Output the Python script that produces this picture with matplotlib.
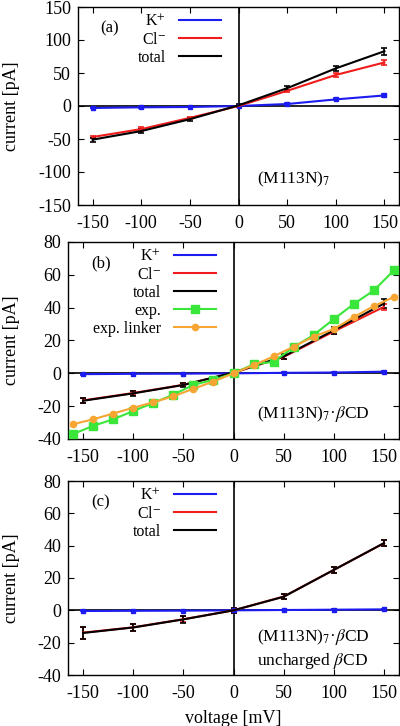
import matplotlib
matplotlib.use('Agg')
import matplotlib.pyplot as plt
from matplotlib.lines import Line2D

plt.rcParams['font.family'] = ['Liberation Serif', 'DejaVu Serif']
plt.rcParams['mathtext.fontset'] = 'stix'
plt.rcParams['axes.unicode_minus'] = False
plt.rcParams['font.size'] = 12

# simulation voltages
volt = [-150, -100, -50, 0, 50, 100, 150]
# experimental voltages
volt_exp = [-160, -140, -120, -100, -80, -60, -40, -20, 0, 20, 40, 60, 80, 100, 120, 140, 160]

# (a) (M113N)7
a_k = [-3, -2, -1.5, 0, 3, 10, 16]
a_k_err = [0.5, 0.5, 0.5, 0.5, 1, 1.5, 2]
a_cl = [-47, -35, -18, 0, 23, 47, 66]
a_cl_err = [2, 3, 2, 2, 2, 3, 4]
a_tot = [-51, -38, -20, 1, 27, 57, 83]
a_tot_err = [3, 3, 2, 2, 3, 4, 5]

# (b) (M113N)7·βCD
b_k = [-0.5, -0.3, -0.2, 0, 0.3, 0.5, 1]
b_k_err = [0.3, 0.3, 0.3, 0.3, 0.3, 0.3, 0.5]
b_cl = [-16.5, -12, -7, 0.3, 10, 25.5, 40.5]
b_cl_err = [1.5, 1.5, 1, 1, 1, 1.5, 2]
b_tot = [-16.7, -12.2, -7.1, 0.5, 10.3, 26.2, 42.5]
b_tot_err = [1.5, 1.5, 1, 1.5, 1.5, 2, 2.5]
b_exp = [-37, -32, -28, -23, -18, -13, -7, -4, 0, 5.5, 7, 16, 23.4, 33, 42.3, 50.5, 62.8]
b_linker = [-31, -28, -24.5, -21, -17.6, -14, -9.4, -5, 0, 5, 10.3, 16.3, 22.4, 27, 34.3, 41, 46.5]

# (c) uncharged βCD
c_k = [-0.4, -0.3, -0.2, 0, 0.2, 0.4, 0.6]
c_k_err = [0.3, 0.3, 0.3, 0.3, 0.3, 0.3, 0.3]
c_cl = [-13.8, -10.5, -5.5, 0, 8.5, 25, 41.5]
c_cl_err = [3.8, 2, 2, 1.5, 1.5, 2, 2]
c_tot = [-14, -10.6, -5.6, 0, 8.4, 25, 41.6]
c_tot_err = [3.8, 2, 2, 1.5, 1.5, 2, 2]

BLUE = '#1c1cf0'
RED = '#f01c1c'
GREEN = '#3ae63a'
ORANGE = '#f7a533'

fig = plt.figure(figsize=(4.0, 7.26), dpi=100)
W, H = 400.0, 726.0

def box(l, t, r, b):
    return [l / W, 1 - b / H, (r - l) / W, (b - t) / H]

ax_a = fig.add_axes(box(78, 7, 399, 205))
ax_b = fig.add_axes(box(68, 242, 399, 439))
ax_c = fig.add_axes(box(68, 481, 399, 675))


def sim_lines(ax, k, ke, cl, cle, tot, tote):
    kw = dict(lw=1.5, capsize=2.5, capthick=1.2, elinewidth=1.2, zorder=3)
    ax.errorbar(volt, k, yerr=ke, color=BLUE, marker='s', ms=2.5, **kw)
    ax.errorbar(volt, cl, yerr=cle, color=RED, **kw)
    ax.errorbar(volt, tot, yerr=tote, color='black', **kw)
    return [Line2D([], [], color=BLUE, lw=1.5, label='K$^{+}$'),
            Line2D([], [], color=RED, lw=1.5, label='Cl$^{-}$'),
            Line2D([], [], color='black', lw=1.5, label='total')]


def style(ax, ylim, yticks):
    ax.set_xlim(-165, 165)
    ax.set_ylim(*ylim)
    ax.set_xticks([-150, -100, -50, 0, 50, 100, 150])
    ax.set_yticks(yticks)
    ax.axhline(0, color='black', lw=1.2, zorder=1)
    ax.axvline(0, color='black', lw=1.2, zorder=1)
    ax.tick_params(direction='in', top=True, right=True, length=4, width=0.8, labelsize=13, pad=5)
    ax.tick_params(axis='x', pad=7)
    for s in ax.spines.values():
        s.set_linewidth(1.0)


def legend(ax, handles, x_end):
    ax.legend(handles=handles, loc='upper right', bbox_to_anchor=(x_end, 0.965), frameon=False,
              markerfirst=False, handlelength=2.65, handletextpad=0.8, labelspacing=0.12,
              borderpad=0, borderaxespad=0, fontsize=11.5, numpoints=1)


h = sim_lines(ax_a, a_k, a_k_err, a_cl, a_cl_err, a_tot, a_tot_err)
style(ax_a, (-150, 150), [-150, -100, -50, 0, 50, 100, 150])
legend(ax_a, h, (221 - 78) / 321)
ax_a.text(0.07, 0.89, '(a)', transform=ax_a.transAxes, ha='left', va='center')
ax_a.text(0.557, 0.13, '(M113N)$_7$', transform=ax_a.transAxes, ha='left', va='center', fontsize=12.5)

h = sim_lines(ax_b, b_k, b_k_err, b_cl, b_cl_err, b_tot, b_tot_err)
ax_b.plot(volt_exp, b_exp, color=GREEN, lw=1.5, marker='s', ms=6, zorder=4)
ax_b.plot(volt_exp, b_linker, color=ORANGE, lw=1.5, marker='o', ms=4.5, zorder=4)
h += [Line2D([], [], color=GREEN, lw=1.5, marker='s', ms=6, label='exp.'),
      Line2D([], [], color=ORANGE, lw=1.5, marker='o', ms=4.5, label='exp. linker')]
style(ax_b, (-40, 80), [-40, -20, 0, 20, 40, 60, 80])
legend(ax_b, h, (216 - 68) / 331)
ax_b.text(0.07, 0.89, '(b)', transform=ax_b.transAxes, ha='left', va='center')
ax_b.text(0.57, 0.127, '(M113N)$_7$·$\\beta$CD', transform=ax_b.transAxes, ha='left', va='center',
          fontsize=12.5)

h = sim_lines(ax_c, c_k, c_k_err, c_cl, c_cl_err, c_tot, c_tot_err)
style(ax_c, (-40, 80), [-40, -20, 0, 20, 40, 60, 80])
legend(ax_c, h, (216 - 68) / 331)
ax_c.text(0.07, 0.89, '(c)', transform=ax_c.transAxes, ha='left', va='center')
ax_c.text(0.57, 0.134, '(M113N)$_7$·$\\beta$CD\nuncharged $\\beta$CD', transform=ax_c.transAxes,
          ha='left', va='center', linespacing=1.3, fontsize=12.5)
ax_c.set_xlabel('voltage [mV]', fontsize=13, labelpad=6)

for yc in [106, 340, 578]:
    fig.text(12 / W, 1 - yc / H, 'current [pA]', rotation=90, ha='center', va='center', fontsize=13)

fig.savefig('out.png', dpi=100)
